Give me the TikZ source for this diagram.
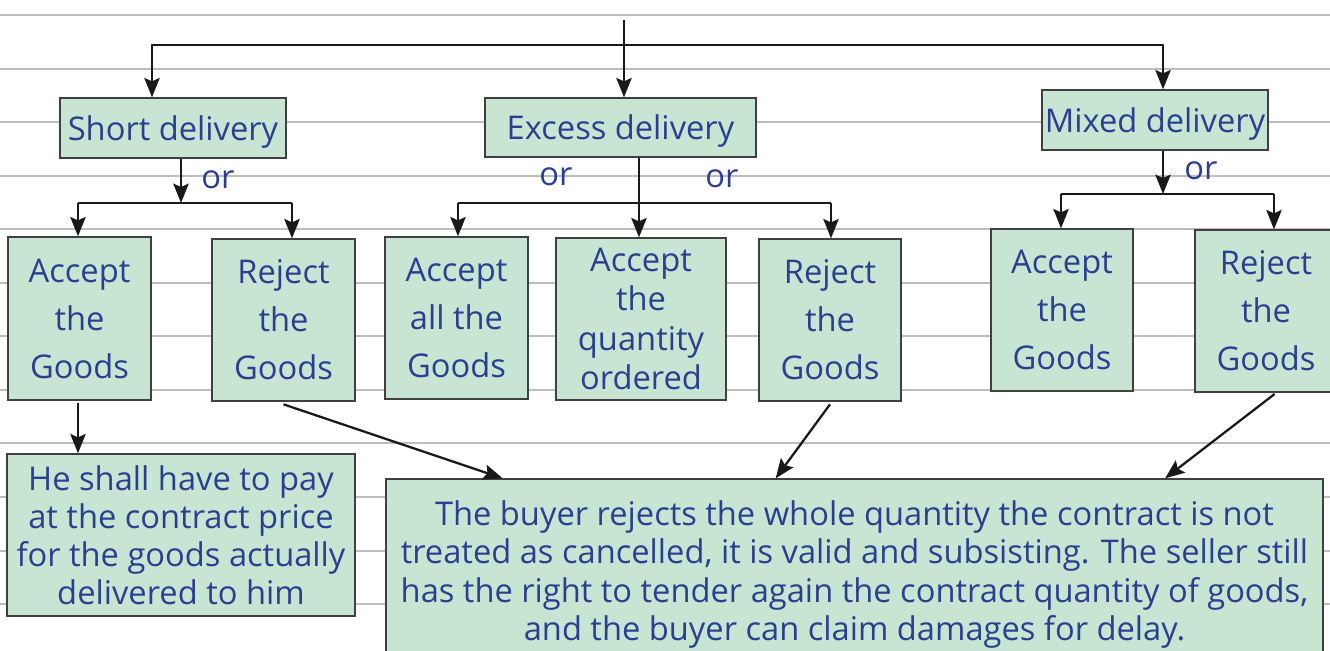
\documentclass[tikz,border=0pt]{standalone}
\usepackage{fontspec}
\setmainfont{Open Sans}
\usetikzlibrary{arrows.meta,calc}
\definecolor{boxfill}{HTML}{C8E5D3}
\definecolor{txtblue}{HTML}{2B3F90}
\definecolor{rulegrey}{HTML}{BDBDBD}
\begin{document}
\begin{tikzpicture}[x=0.75pt,y=-0.75pt,
  box/.style={draw=black!75, line width=1pt, fill=boxfill, text=txtblue,
    inner sep=0pt, align=center, text depth=0pt},
  span/.style n args={4}{minimum width={(#3-#1)*0.75pt},
    minimum height={(#4-#2)*0.75pt}, at={({(#1+#3)/2},{(#2+#4)/2})}},
  onel/.style={font=\fontsize{24.5}{36}\selectfont},
  tall/.style={font=\fontsize{24.5}{36}\selectfont},
  four/.style={font=\fontsize{24.5}{29.6}\selectfont},
  para/.style={font=\fontsize{24.5}{28.7}\selectfont},
  orlab/.style={text=txtblue, font=\fontsize{24.5}{28}\selectfont, inner sep=0pt},
  ln/.style={draw=black!90, line width=1.7pt},
  arr/.style={ln, -{Stealth[length=14.5pt,width=11.5pt,inset=2.5pt]}}]
\clip (0,0) rectangle (1330,650);
\fill[white] (0,0) rectangle (1330,650);
% ruled paper
\foreach \yy in {15,69,122,176,229,283,336,390,443,497,551,604}
  \draw[rulegrey, line width=1.3pt] (0,\yy) -- (1330,\yy);

% first level
\node[box,onel,span={60}{98}{286}{158}] (short) {Short delivery};
\node[box,onel,span={485}{98}{756}{157}] (excess) {Excess delivery};
\node[box,onel,span={1042}{90}{1268}{150}] (mixed) {Mixed delivery};

% second level
\node[box,tall,span={8}{237}{151}{400}] (acc1) {Accept\\the\\Goods};
\node[box,tall,span={212}{239}{355}{401}] (rej1) {Reject\\the\\Goods};
\node[box,tall,span={385}{237}{528}{399}] (accall) {Accept\\all the\\Goods};
\node[box,four,span={556}{238}{726}{400}] (accqty) {Accept\\the\\quantity\\ordered};
\node[box,tall,span={759}{239}{901}{401}] (rej2) {Reject\\the\\Goods};
\node[box,tall,span={991}{229}{1133}{391}] (acc3) {Accept\\the\\Goods};
\node[box,tall,span={1195}{230}{1337}{392}] (rej3) {Reject\\the\\Goods};

% outcomes
\node[box,para,span={7}{454}{355}{616}] (pay)
  {He shall have to pay\\at the contract price\\for the goods actually\\delivered to him};
\node[box,para,span={386}{479}{1323}{662}] (big)
  {The buyer rejects the whole quantity the contract is not\\
   treated as cancelled, it is valid and subsisting. The seller still\\
   has the right to tender again the contract quantity of goods,\\
   and the buyer can claim damages for delay.};

% top distribution bar
\coordinate (tl) at (152,45);
\coordinate (tr) at (1163,45);
\coordinate (tm) at (624,20);
\draw[ln, line cap=round] (tl) -- (tr);
\draw[arr] (tl) -- (tl |- short.north);
\draw[arr] (tm) -- (tm |- excess.north);
\draw[arr] (tr) -- (tr |- mixed.north);

% short delivery branches
\coordinate (sj) at (181,203);
\coordinate (sl) at (78,203);
\coordinate (sr) at (292,203);
\draw[arr] (short.south -| sj) -- (sj);
\draw[ln] (sl) -- (sr);
\draw[arr] (sl) -- (sl |- acc1.north);
\draw[arr] (sr) -- (sr |- rej1.north);
\node[orlab] (or1) at (218,180) {or};

% excess delivery branches
\coordinate (ej) at (639,203);
\coordinate (el) at (458,203);
\coordinate (er) at (831,203);
\draw[ln] (el) -- (er);
\draw[arr] (excess.south -| ej) -- (ej |- accqty.north);
\draw[arr] (el) -- (el |- accall.north);
\draw[arr] (er) -- (er |- rej2.north);
\node[orlab] (or2) at (556,177) {or};
\node[orlab] (or3) at (722,179) {or};

% mixed delivery branches
\coordinate (mj) at (1163,194);
\coordinate (ml) at (1061,194);
\coordinate (mr) at (1274,194);
\draw[arr] (mixed.south -| mj) -- (mj);
\draw[ln] (ml) -- (mr);
\draw[arr] (ml) -- (ml |- acc3.north);
\draw[arr] (mr) -- (mr |- rej3.north);
\node[orlab] (or4) at (1201,171) {or};

% consequences
\draw[arr] ([yshift=-2pt]acc1.south -| sl) -- (sl |- pay.north);
\draw[arr] ([yshift=-2pt]rej1.south) -- ($(big.north west)!0.125!(big.north east)$);
\draw[arr] ([yshift=-2pt]rej2.south) -- ($(big.north west)!0.416!(big.north east)$);
\draw[arr] ([yshift=-1pt]$(rej3.south west)!0.56!(rej3.south east)$) -- ($(big.north west)!0.831!(big.north east)$);
\end{tikzpicture}
\end{document}
